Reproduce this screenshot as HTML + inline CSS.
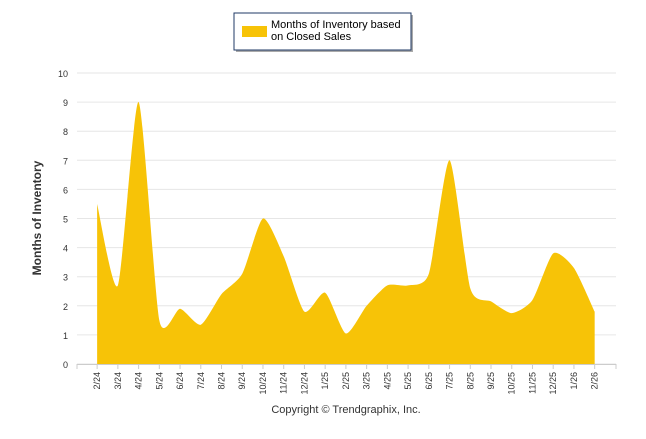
<!DOCTYPE html>
<html><head><meta charset="utf-8"><style>
body{margin:0;background:#fff;width:646px;height:434px;overflow:hidden;font-family:"Liberation Sans",sans-serif}
</style></head><body>
<svg width="646" height="434">
<g id="grid"></g>
<path id="area" fill="#f7c307"/>
<g id="axes"></g>
<text x="41" y="218" transform="rotate(-90 41 218)" text-anchor="middle" font-size="12" font-weight="bold" fill="#333">Months of Inventory</text>
<text x="346" y="413" text-anchor="middle" font-size="11" fill="#333">Copyright © Trendgraphix, Inc.</text>
<g>
<rect x="236" y="15" width="177" height="37" fill="#555" opacity="0.5"/>
<rect x="234" y="13" width="177" height="37" fill="#fff" stroke="#1f3864" stroke-width="1"/>
<rect x="242" y="26" width="25" height="11" fill="#f7c307"/>
<text x="271" y="28" font-size="11" fill="#000">Months of Inventory based</text>
<text x="271" y="40" font-size="11" fill="#000">on Closed Sales</text>
</g>
</svg>
<script>
const categories=["2/24","3/24","4/24","5/24","6/24","7/24","8/24","9/24","10/24","11/24","12/24","1/25","2/25","3/25","4/25","5/25","6/25","7/25","8/25","9/25","10/25","11/25","12/25","1/26","2/26"];
const values=[5.5,2.7,9.0,1.5,1.9,1.35,2.4,3.1,5.0,3.7,1.8,2.45,1.05,2.0,2.7,2.7,3.1,7.0,2.6,2.15,1.75,2.2,3.8,3.3,1.8];
const yTicks=[0,1,2,3,4,5,6,7,8,9,10];
const NS="http://www.w3.org/2000/svg";
const x0=77,x1=616,y0=364,y10=73,step=(x1-x0)/(categories.length+1);
const X=i=>x0+step*(i+1)-0.6, Y=v=>y0-(y0-y10)*v/10;
const grid=document.getElementById('grid'),axes=document.getElementById('axes');
function mk(t,a,p){const e=document.createElementNS(NS,t);for(const k in a)e.setAttribute(k,a[k]);p.appendChild(e);return e;}
yTicks.forEach(v=>{
 const l=mk('line',{x1:x0,x2:x1,y1:Y(v),y2:Y(v),stroke:'#e6e6e6'},grid);
 
 
 const t=mk('text',{x:68,y:Y(v)+4,'text-anchor':'end','font-size':'9',fill:'#333'},axes);
 t.textContent=v;
 
 
});
mk('line',{x1:x0,x2:x1,y1:y0+0.5,y2:y0+0.5,stroke:'#ccc'},axes);
mk('line',{x1:x0,x2:x0,y1:y0,y2:y0+5,stroke:'#ccc'},axes);
mk('line',{x1:x1,x2:x1,y1:y0,y2:y0+5,stroke:'#ccc'},axes);
categories.forEach((c,i)=>{
 mk('line',{x1:X(i),x2:X(i),y1:y0,y2:y0+5,stroke:'#ccc'},axes);
 const t=mk('text',{x:X(i)+3,y:y0+8,'text-anchor':'end','font-size':'9',fill:'#333',transform:`rotate(-90 ${X(i)+3} ${y0+8})`},axes);
 t.textContent=c;
 
 
});
const pts=values.map((v,i)=>[X(i),Y(v)]);
let d=`M${pts[0][0]},${y0}L${pts[0][0]},${pts[0][1]}`;
const k=0.11;
for(let i=0;i<pts.length-1;i++){
 const p0=pts[Math.max(0,i-1)],p1=pts[i],p2=pts[i+1],p3=pts[Math.min(pts.length-1,i+2)];
 const c1=[p1[0]+(p2[0]-p0[0])*k,p1[1]+(p2[1]-p0[1])*k];
 const c2=[p2[0]-(p3[0]-p1[0])*k,p2[1]-(p3[1]-p1[1])*k];
 d+=`C${c1[0]},${c1[1]} ${c2[0]},${c2[1]} ${p2[0]},${p2[1]}`;
}
d+=`L${pts[pts.length-1][0]},${y0}Z`;
document.getElementById('area').setAttribute('d',d);
</script>
</body></html>
